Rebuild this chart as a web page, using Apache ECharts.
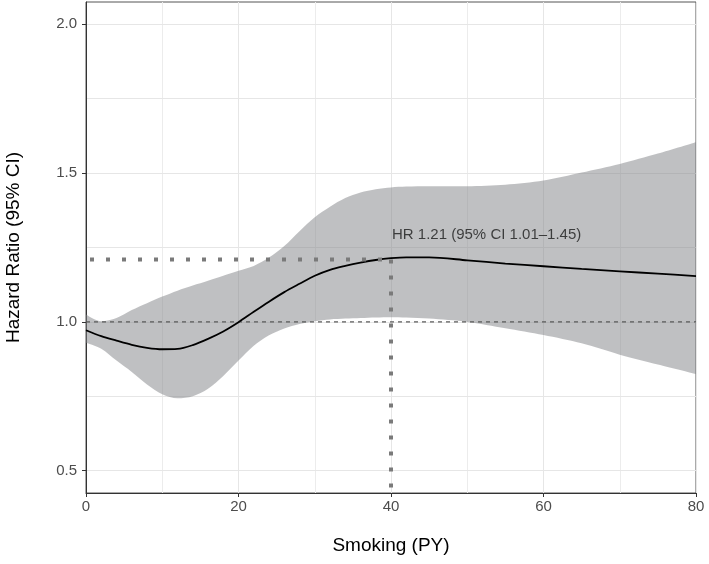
<!DOCTYPE html>
<html>
<head>
<meta charset="utf-8">
<script src="https://cdn.jsdelivr.net/npm/echarts@6/dist/echarts.min.js"></script>
<style>html,body{margin:0;padding:0;background:#fff}#c{width:709px;height:564px}</style>
</head>
<body>
<div id="c"></div>
<script>
// ---- data ----
var smokingPY = [0, 2, 4, 6, 8, 10, 12, 14, 16, 18, 20, 22, 24, 26, 28, 30, 32, 34, 36, 38, 40, 42, 45, 50, 55, 60, 65, 70, 75, 80];
var hazardRatio = [0.972, 0.952, 0.937, 0.923, 0.913, 0.908, 0.909, 0.922, 0.943, 0.968, 0.999, 1.034, 1.068, 1.100, 1.128, 1.155, 1.175, 1.188, 1.199, 1.208, 1.214, 1.217, 1.217, 1.207, 1.196, 1.187, 1.178, 1.170, 1.162, 1.154];
var ciUpper = [1.025, 1.002, 1.013, 1.040, 1.063, 1.085, 1.105, 1.122, 1.138, 1.155, 1.172, 1.188, 1.216, 1.255, 1.305, 1.352, 1.387, 1.416, 1.435, 1.446, 1.452, 1.455, 1.456, 1.456, 1.461, 1.475, 1.502, 1.531, 1.566, 1.604];
var ciLower = [0.930, 0.910, 0.870, 0.832, 0.790, 0.757, 0.743, 0.750, 0.775, 0.818, 0.870, 0.920, 0.955, 0.978, 0.993, 1.002, 1.008, 1.011, 1.013, 1.015, 1.016, 1.015, 1.011, 1.000, 0.979, 0.956, 0.928, 0.890, 0.857, 0.825];
var yTickValues = [0.5, 1.0, 1.5, 2.0];
var yGridValues = [0.5, 0.75, 1.0, 1.25, 1.5, 1.75, 2.0];
var refHR = 1.0;
var markerPY = 40;
var markerHR = 1.21;
var annotationText = 'HR 1.21 (95% CI 1.01\u20131.45)';
var annotationHR = 1.294;
var xTitle = 'Smoking (PY)';
var yTitle = 'Hazard Ratio (95% CI)';
var yMin = 0.425, yMax = 2.075;

// ---- build ----
var FONT = '"Liberation Sans", Arial, sans-serif';
function pairs(xs, ys) { return xs.map(function (x, i) { return [x, ys[i]]; }); }
// [value, x] order so the stack is applied on the y dimension
function yxPairs(xs, ys) { return xs.map(function (x, i) { return [ys[i], x]; }); }
var bandWidth = ciUpper.map(function (u, i) { return +(u - ciLower[i]).toFixed(4); });

var chart = echarts.init(document.getElementById('c'), null, { renderer: 'canvas' });
chart.setOption({
  animation: false,
  backgroundColor: '#fff',
  grid: { left: 86, right: 13, top: 2, bottom: 71, containLabel: false, outerBoundsMode: 'none',
    show: true, borderColor: '#555', borderWidth: 1, backgroundColor: 'transparent' },
  xAxis: {
    type: 'value', min: 0, max: 80, interval: 20,
    name: xTitle, nameLocation: 'middle', nameGap: 43,
    nameTextStyle: { fontFamily: FONT, fontSize: 19, color: '#000' },
    axisLine: { show: true, lineStyle: { color: '#333', width: 1 } },
    axisTick: { show: true, length: 4, lineStyle: { color: '#333' } },
    axisLabel: { fontFamily: FONT, fontSize: 15, color: '#4d4d4d', margin: 6 },
    splitLine: { show: true, lineStyle: { color: '#e6e6e6', width: 1 } },
    minorTick: { show: false, splitNumber: 2 },
    minorSplitLine: { show: true, lineStyle: { color: '#ececec', width: 1 } }
  },
  yAxis: {
    type: 'value', min: yMin, max: yMax,
    name: yTitle, nameLocation: 'middle', nameGap: 63,
    nameTextStyle: { fontFamily: FONT, fontSize: 19, color: '#000' },
    axisLine: { show: true, lineStyle: { color: '#333', width: 1 } },
    axisTick: { show: true, length: 4, lineStyle: { color: '#333' }, customValues: yTickValues },
    axisLabel: { fontFamily: FONT, fontSize: 15, color: '#4d4d4d', margin: 9, customValues: yTickValues,
      formatter: function (v) { return (+v).toFixed(1); } },
    splitLine: { show: false }
  },
  series: [
    {
      name: 'ygrid', type: 'line', z: 0, silent: true, showSymbol: false,
      data: [[0, yTickValues[0]]], lineStyle: { opacity: 0 },
      markLine: {
        silent: true, z: 0, zlevel: 0, symbol: ['none', 'none'], label: { show: false },
        lineStyle: { color: '#e6e6e6', width: 1, type: 'solid' },
        data: yGridValues.map(function (v) { return { yAxis: v }; })
      }
    },
    {
      name: 'lower', type: 'line', stack: 'ci', z: 2, silent: true, showSymbol: false, smooth: 0.3,
      encode: { x: 1, y: 0 },
      data: yxPairs(smokingPY, ciLower), lineStyle: { opacity: 0 }
    },
    {
      name: 'band', type: 'line', stack: 'ci', z: 2, silent: true, showSymbol: false, smooth: 0.3,
      encode: { x: 1, y: 0 },
      data: yxPairs(smokingPY, bandWidth), lineStyle: { opacity: 0 },
      areaStyle: { color: 'rgba(128,130,133,0.5)', opacity: 1 }
    },
    {
      name: 'ref', type: 'line', z: 3, silent: true, showSymbol: false,
      data: [[0, refHR], [80, refHR]],
      lineStyle: { color: '#555', width: 1.2, type: [4, 4] }
    },
    {
      name: 'hr', type: 'line', z: 4, silent: true, showSymbol: false, smooth: 0.3,
      data: pairs(smokingPY, hazardRatio),
      lineStyle: { color: '#000', width: 1.8 }
    },
    {
      name: 'hdot', type: 'line', z: 5, silent: true, showSymbol: false,
      data: [[0, markerHR], [markerPY, markerHR]],
      lineStyle: { color: '#7a7a7a', width: 4, type: [4, 12], dashOffset: 12, cap: 'butt' }
    },
    {
      name: 'vdot', type: 'line', z: 5, silent: true, showSymbol: false,
      data: [[markerPY, markerHR], [markerPY, yMin]],
      lineStyle: { color: '#7a7a7a', width: 4, type: [4, 12], dashOffset: 0, cap: 'butt' }
    },
    {
      name: 'annot', type: 'scatter', z: 6, silent: true, symbolSize: 0,
      data: [[markerPY, annotationHR]],
      label: { show: true, position: 'right', distance: 1, formatter: annotationText,
        fontFamily: FONT, fontSize: 15, color: '#1a1a1a' }
    }
  ]
});
</script>
</body>
</html>
